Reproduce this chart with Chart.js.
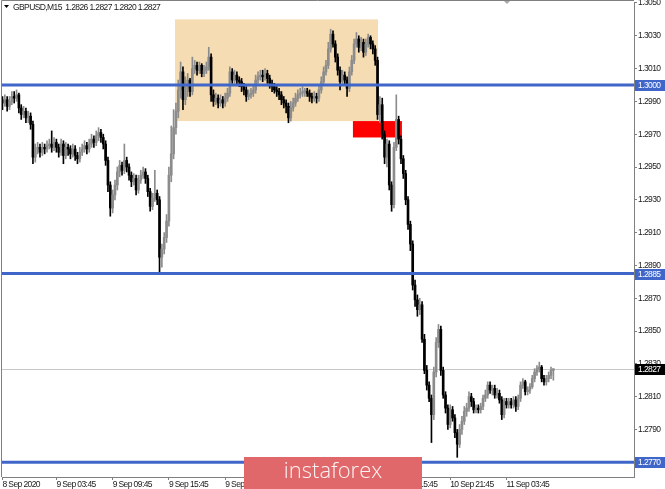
<!doctype html>
<html lang="en">
  <head>
    <meta charset="utf-8">
    <script src="https://cdn.jsdelivr.net/npm/chart.js@4.4.1/dist/chart.umd.min.js"></script>
    <style>
      body { margin: 0; background: #fff; }
    </style>
  </head>
  <body>
    <canvas id="chart" width="665" height="489"></canvas>
    <script>
      // GBPUSD M15, 8 Sep 22:00 .. 11 Sep 08:45 (bar index 0..235)
      const closes = [
        1.2989,1.2991,1.2987,1.2990,1.2993,1.2992,1.2994,1.2986,1.2982,1.2984,
        1.2980,1.2981,1.2976,1.2956,1.2961,1.2962,1.2959,1.2962,1.2961,1.2963,
        1.2964,1.2962,1.2965,1.2962,1.2959,1.2964,1.2957,1.2962,1.2961,1.2958,
        1.2961,1.2957,1.2955,1.2959,1.2961,1.2963,1.2961,1.2964,1.2967,1.2965,
        1.2969,1.2971,1.2968,1.2964,1.2954,1.2939,1.2925,1.2933,1.2939,1.2947,
        1.2951,1.2948,1.2954,1.2950,1.2945,1.2941,1.2943,1.2936,1.2942,1.2945,
        1.2947,1.2943,1.2935,1.2926,1.2931,1.2934,1.2930,1.2895,1.2900,1.2907,
        1.2917,1.2945,1.2958,1.2974,1.2984,1.2997,1.3008,1.2991,1.2998,1.3003,
        1.2996,1.3010,1.3012,1.3009,1.3012,1.3007,1.3009,1.3011,1.3017,1.2994,
        1.2990,1.2992,1.2989,1.2991,1.2989,1.2992,1.2995,1.3008,1.3003,1.3006,
        1.3003,1.3002,1.2999,1.2997,1.2993,1.2994,1.2995,1.2997,1.3003,1.3005,
        1.3006,1.3005,1.3007,1.3004,1.3001,1.2999,1.2997,1.2996,1.2994,1.2991,
        1.2989,1.2987,1.2980,1.2986,1.2989,1.2992,1.2994,1.2995,1.2996,1.2996,
        1.2995,1.2993,1.2992,1.2993,1.2992,1.2997,1.3002,1.3008,1.3012,1.3022,
        1.3031,1.3025,1.3017,1.3009,1.3002,1.3006,1.3003,1.2998,1.3008,1.3015,
        1.3025,1.3028,1.3023,1.3026,1.3020,1.3025,1.3029,1.3025,1.3022,1.3015,
        1.2982,1.2988,1.2970,1.2956,1.2964,1.2939,1.2927,1.2962,1.2979,1.2967,
        1.2955,1.2946,1.2930,1.2915,1.2903,1.2878,1.2869,1.2863,1.2866,1.2845,
        1.2826,1.2817,1.2809,1.2799,1.2825,1.2843,1.2851,1.2826,1.2811,1.2803,
        1.2793,1.2802,1.2797,1.2788,1.2781,1.2790,1.2795,1.2801,1.2803,1.2810,
        1.2807,1.2802,1.2803,1.2802,1.2804,1.2809,1.2811,1.2817,1.2814,1.2815,
        1.2811,1.2812,1.2808,1.2799,1.2807,1.2805,1.2807,1.2805,1.2808,1.2804,
        1.2809,1.2817,1.2819,1.2813,1.2814,1.2816,1.2821,1.2825,1.2827,1.2828,
        1.2821,1.2819,1.2821,1.2823,1.2826,1.2827
      ];
      const highs = [
        1.2993,1.2994,1.2993,1.2993,1.2996,1.2996,1.2997,1.2995,1.2988,1.2987,
        1.2986,1.2984,1.2983,1.2978,1.2964,1.2965,1.2964,1.2965,1.2964,1.2966,
        1.2967,1.2972,1.2968,1.2967,1.2964,1.2967,1.2966,1.2965,1.2964,1.2963,
        1.2964,1.2963,1.2959,1.2962,1.2964,1.2966,1.2965,1.2967,1.2970,1.2969,
        1.2972,1.2974,1.2973,1.2970,1.2966,1.2956,1.2941,1.2936,1.2942,1.2950,
        1.2954,1.2953,1.2964,1.2956,1.2952,1.2947,1.2946,1.2945,1.2945,1.2948,
        1.2950,1.2949,1.2945,1.2937,1.2934,1.2948,1.2936,1.2932,1.2903,1.2910,
        1.2921,1.2950,1.2975,1.2985,1.2989,1.3003,1.3014,1.3011,1.3005,1.3007,
        1.3004,1.3017,1.3015,1.3014,1.3014,1.3013,1.3012,1.3014,1.3023,1.3019,
        1.2997,1.2995,1.2994,1.2994,1.2993,1.2995,1.2998,1.3011,1.3010,1.3009,
        1.3008,1.3005,1.3004,1.3001,1.2999,1.2997,1.2998,1.3000,1.3006,1.3008,
        1.3009,1.3009,1.3010,1.3009,1.3006,1.3003,1.3001,1.2999,1.2998,1.2996,
        1.2993,1.2991,1.2989,1.2990,1.2992,1.2995,1.2997,1.2998,1.2999,1.2998,
        1.2998,1.2997,1.2995,1.2996,1.2995,1.3000,1.3005,1.3011,1.3015,1.3026,
        1.3034,1.3033,1.3027,1.3019,1.3011,1.3009,1.3008,1.3005,1.3011,1.3018,
        1.3028,1.3032,1.3030,1.3029,1.3028,1.3028,1.3031,1.3030,1.3027,1.3024,
        1.3017,1.2993,1.2992,1.2972,1.2967,1.2966,1.2941,1.2965,1.2994,1.2981,
        1.2969,1.2957,1.2948,1.2932,1.2917,1.2905,1.2881,1.2872,1.2870,1.2868,
        1.2848,1.2829,1.2819,1.2811,1.2828,1.2846,1.2854,1.2853,1.2828,1.2813,
        1.2805,1.2805,1.2804,1.2799,1.2790,1.2793,1.2798,1.2804,1.2806,1.2813,
        1.2812,1.2809,1.2805,1.2805,1.2806,1.2811,1.2814,1.2819,1.2819,1.2817,
        1.2817,1.2815,1.2814,1.2810,1.2809,1.2809,1.2809,1.2809,1.2810,1.2810,
        1.2811,1.2819,1.2821,1.2820,1.2816,1.2818,1.2823,1.2827,1.2829,1.2831,
        1.2829,1.2823,1.2823,1.2825,1.2828,1.2827
      ];
      const lows = [
        1.2985,1.2987,1.2984,1.2985,1.2988,1.2989,1.2990,1.2983,1.2979,1.2980,
        1.2977,1.2977,1.2973,1.2952,1.2953,1.2958,1.2956,1.2957,1.2958,1.2959,
        1.2961,1.2959,1.2960,1.2959,1.2956,1.2957,1.2952,1.2955,1.2957,1.2955,
        1.2956,1.2954,1.2952,1.2953,1.2957,1.2959,1.2958,1.2959,1.2962,1.2962,
        1.2963,1.2966,1.2965,1.2961,1.2951,1.2935,1.2920,1.2922,1.2930,1.2936,
        1.2944,1.2945,1.2946,1.2947,1.2942,1.2938,1.2939,1.2933,1.2934,1.2940,
        1.2943,1.2940,1.2932,1.2923,1.2924,1.2929,1.2927,1.2886,1.2889,1.2897,
        1.2904,1.2914,1.2941,1.2955,1.2970,1.2980,1.2992,1.2985,1.2988,1.2993,
        1.2993,1.2994,1.3007,1.3006,1.3007,1.3005,1.3005,1.3007,1.3009,1.2990,
        1.2987,1.2988,1.2986,1.2987,1.2986,1.2987,1.2990,1.2993,1.3001,1.3001,
        1.3000,1.2999,1.2996,1.2994,1.2990,1.2991,1.2992,1.2993,1.2995,1.3001,
        1.3003,1.3002,1.3003,1.3001,1.2998,1.2996,1.2995,1.2993,1.2991,1.2988,
        1.2986,1.2983,1.2977,1.2978,1.2984,1.2987,1.2990,1.2992,1.2993,1.2993,
        1.2993,1.2990,1.2989,1.2990,1.2989,1.2990,1.2995,1.3000,1.3006,1.3010,
        1.3020,1.3023,1.3014,1.3006,1.2997,1.3000,1.3000,1.2993,1.2996,1.3006,
        1.3013,1.3023,1.3020,1.3021,1.3017,1.3018,1.3023,1.3022,1.3019,1.3012,
        1.2979,1.2977,1.2967,1.2952,1.2950,1.2936,1.2923,1.2925,1.2960,1.2964,
        1.2952,1.2943,1.2927,1.2912,1.2899,1.2875,1.2865,1.2859,1.2860,1.2843,
        1.2824,1.2814,1.2807,1.2782,1.2796,1.2822,1.2840,1.2823,1.2809,1.2800,
        1.2790,1.2791,1.2795,1.2785,1.2773,1.2779,1.2787,1.2793,1.2798,1.2801,
        1.2804,1.2800,1.2800,1.2800,1.2800,1.2802,1.2807,1.2809,1.2812,1.2811,
        1.2809,1.2809,1.2806,1.2796,1.2797,1.2803,1.2803,1.2803,1.2803,1.2801,
        1.2802,1.2807,1.2815,1.2811,1.2811,1.2812,1.2815,1.2819,1.2823,1.2825,
        1.2819,1.2817,1.2817,1.2819,1.2821,1.2820
      ];
      const firstOpen = 1.2991;
      // forex M15: each bar opens where the previous one closed
      const opens = closes.map((c, i) => (i === 0 ? firstOpen : closes[i - 1]));

      const yTicks = [1.3050, 1.3030, 1.3010, 1.2990, 1.2970, 1.2950, 1.2930, 1.2910,
                      1.2890, 1.2870, 1.2850, 1.2830, 1.2810, 1.2790, 1.2770];
      const xTickBars = [0, 23, 47, 71, 95, 119, 143, 167, 191, 215];
      const xTickLabels = ['8 Sep 2020', '9 Sep 03:45', '9 Sep 09:45', '9 Sep 15:45', '9 Sep 21:45',
                           '10 Sep 03:45', '10 Sep 09:45', '10 Sep 15:45', '10 Sep 21:45', '11 Sep 03:45'];

      const levels = [1.3000, 1.2885, 1.2770];
      const lastPrice = 1.2827;
      const title = 'GBPUSD,M15  1.2826 1.2827 1.2820 1.2827';
      // boxes in bar index / price units
      const rangeBox = { x0: 73.6, x1: 160.2, top: 1.3040, bottom: 1.2978 };
      const breakBox = { x0: 149.5, x1: 170.4, top: 1.2978, bottom: 1.2968 };

      const upColor = '#8c8c8c';
      const downColor = '#000000';
      const lineBlue = '#3f66c8';
      const fontFamily = '"Liberation Sans", Arial, sans-serif';
      const fontSize = 8.5;
      const smallFont = fontSize + 'px ' + fontFamily;
      const squeeze = '-0.6px'; // terminal font is narrower than Liberation Sans

      const barColor = (ctx) => closes[ctx.dataIndex] >= opens[ctx.dataIndex] ? upColor : downColor;

      const wickData = closes.map((c, i) => ({ x: i, y: [lows[i], highs[i]] }));
      const bodyData = closes.map((c, i) => ({ x: i, y: [opens[i], c] }));

      const noPad = (s) => { s.paddingTop = 0; s.paddingBottom = 0; s.paddingLeft = 0; s.paddingRight = 0; };

      const overlay = {
        id: 'overlay',
        beforeLayout(chart) { chart.ctx.letterSpacing = squeeze; },
        beforeDraw(chart) { chart.ctx.letterSpacing = squeeze; },
        beforeDatasetsDraw(chart) {
          const { ctx, scales: { x, y } } = chart;
          ctx.save();
          ctx.fillStyle = '#f5dcb3';
          ctx.fillRect(x.getPixelForValue(rangeBox.x0), y.getPixelForValue(rangeBox.top),
            x.getPixelForValue(rangeBox.x1) - x.getPixelForValue(rangeBox.x0),
            y.getPixelForValue(rangeBox.bottom) - y.getPixelForValue(rangeBox.top));
          ctx.fillStyle = '#ff0000';
          ctx.fillRect(x.getPixelForValue(breakBox.x0), y.getPixelForValue(breakBox.top),
            x.getPixelForValue(breakBox.x1) - x.getPixelForValue(breakBox.x0),
            y.getPixelForValue(breakBox.bottom) - y.getPixelForValue(breakBox.top));
          // current price line
          const py = Math.round(y.getPixelForValue(lastPrice)) + 0.5;
          ctx.strokeStyle = '#c8c8c8';
          ctx.lineWidth = 1;
          ctx.beginPath();
          ctx.moveTo(chart.chartArea.left, py);
          ctx.lineTo(chart.chartArea.right, py);
          ctx.stroke();
          ctx.restore();
        },
        afterDatasetsDraw(chart) {
          const { ctx, chartArea, scales: { y } } = chart;
          ctx.save();
          ctx.strokeStyle = lineBlue;
          ctx.lineWidth = 3;
          levels.forEach((lv) => {
            const py = y.getPixelForValue(lv);
            ctx.beginPath();
            ctx.moveTo(chartArea.left, py);
            ctx.lineTo(chartArea.right, py);
            ctx.stroke();
          });
          ctx.restore();
        },
        afterDraw(chart) {
          const { ctx, chartArea, scales: { y } } = chart;
          ctx.save();
          // frame left / top
          ctx.strokeStyle = '#808080';
          ctx.lineWidth = 1;
          ctx.beginPath();
          ctx.moveTo(chartArea.left - 0.5, chartArea.bottom);
          ctx.lineTo(chartArea.left - 0.5, 0.5);
          ctx.lineTo(chartArea.right, 0.5);
          ctx.stroke();

          // price tags on the right axis
          ctx.font = smallFont;
          ctx.textBaseline = 'middle';
          ctx.textAlign = 'left';
          const tag = (v, bg) => {
            const py = Math.round(y.getPixelForValue(v));
            ctx.fillStyle = bg;
            ctx.fillRect(chartArea.right + 1, py - 5, 31, 11);
            ctx.fillStyle = '#ffffff';
            ctx.fillText(v.toFixed(4), chartArea.right + 4, py + 0.5);
          };
          levels.forEach((lv) => tag(lv, lineBlue));
          tag(lastPrice, '#000000');

          // title
          ctx.fillStyle = '#000000';
          ctx.beginPath();
          ctx.moveTo(4, 5);
          ctx.lineTo(9, 5);
          ctx.lineTo(6.5, 8);
          ctx.closePath();
          ctx.fill();
          ctx.fillStyle = '#1a1a1a';
          ctx.fillText(title, 13, 7.5);

          // shift marker
          ctx.fillStyle = '#a8a8a8';
          ctx.beginPath();
          ctx.moveTo(504, 1);
          ctx.lineTo(510, 1);
          ctx.lineTo(507, 4);
          ctx.closePath();
          ctx.fill();

          // watermark
          ctx.letterSpacing = '0px';
          ctx.fillStyle = '#e0686a';
          ctx.fillRect(244, 457, 178, 32);
          ctx.fillStyle = '#fbf3f3';
          ctx.font = '300 22px "Open Sans", Lato, sans-serif';
          ctx.textAlign = 'center';
          ctx.fillText('instaforex', 333, 472);
          ctx.restore();
        }
      };

      new Chart(document.getElementById('chart'), {
        type: 'bar',
        data: {
          datasets: [
            {
              data: wickData,
              backgroundColor: barColor,
              barThickness: 1,
              grouped: false,
              order: 2
            },
            {
              data: bodyData,
              backgroundColor: barColor,
              barThickness: 2,
              minBarLength: 1,
              grouped: false,
              order: 1
            }
          ]
        },
        options: {
          responsive: false,
          animation: false,
          devicePixelRatio: 1,
          layout: { padding: { left: 2, top: 2, right: 0, bottom: 0 } },
          plugins: { legend: { display: false }, tooltip: { enabled: false } },
          scales: {
            x: {
              type: 'linear',
              offset: false,
              min: -0.2,
              max: 269.4,
              afterFit: (s) => { s.height = 12; noPad(s); },
              afterBuildTicks: (s) => { s.ticks = xTickBars.map((v) => ({ value: v })); },
              grid: { offset: false, drawOnChartArea: false, tickLength: 3, color: '#808080' },
              border: { color: '#808080' },
              ticks: {
                autoSkip: false,
                maxRotation: 0,
                align: 'start',
                padding: 0,
                color: '#1a1a1a',
                font: { family: fontFamily, size: fontSize },
                callback: (v) => xTickLabels[xTickBars.indexOf(v)]
              }
            },
            y: {
              position: 'right',
              min: 1.2761,
              max: 1.30506,
              afterFit: (s) => { s.width = 31; noPad(s); },
              afterBuildTicks: (s) => { s.ticks = yTicks.map((v) => ({ value: v })); },
              grid: { drawOnChartArea: false, tickLength: 3, color: '#808080' },
              border: { color: '#808080' },
              ticks: {
                padding: 1,
                color: '#1a1a1a',
                font: { family: fontFamily, size: fontSize },
                callback: (v) => v.toFixed(4)
              }
            }
          }
        },
        plugins: [overlay]
      });
    </script>
  </body>
</html>
